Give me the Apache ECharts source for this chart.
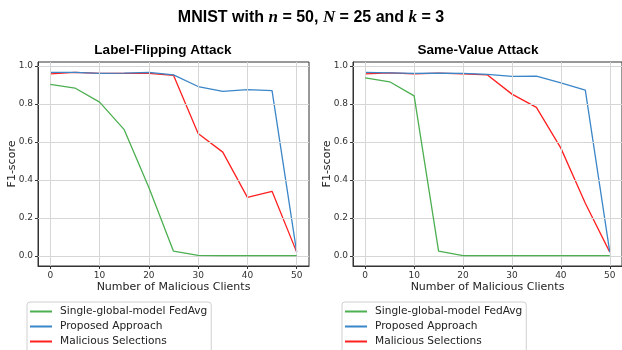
<!DOCTYPE html>
<html>
<head>
<meta charset="utf-8">
<script src="https://cdn.jsdelivr.net/npm/echarts@6/dist/echarts.min.js"></script>
<style>
  html, body { margin: 0; padding: 0; background: #fff; }
  #chart { width: 622px; height: 350px; }
</style>
</head>
<body>
<div id="chart"></div>
<script>
// number of malicious clients (x axis)
const clients = [0, 5, 10, 15, 20, 25, 30, 35, 40, 45, 50];
const xTicks = [0, 10, 20, 30, 40, 50];
const yTicks = [0, 0.2, 0.4, 0.6, 0.8, 1.0];

const seriesNames = ["Single-global-model FedAvg", "Proposed Approach", "Malicious Selections"];
const seriesColors = ["#4caf50", "#3a86c8", "#ff2020"];

// Label-Flipping Attack
const lfFedAvg = [0.902, 0.883, 0.809, 0.664, 0.36, 0.025, 0.003, 0.002, 0.002, 0.002, 0.002];
const lfProposed = [0.965, 0.965, 0.96, 0.962, 0.965, 0.952, 0.891, 0.866, 0.875, 0.869, 0.02];
const lfMalicious = [0.958, 0.965, 0.96, 0.96, 0.96, 0.95, 0.644, 0.546, 0.308, 0.34, 0.02];

// Same-Value Attack
const svFedAvg = [0.937, 0.916, 0.842, 0.025, 0.002, 0.002, 0.002, 0.002, 0.002, 0.002, 0.002];
const svProposed = [0.965, 0.963, 0.96, 0.962, 0.96, 0.955, 0.944, 0.946, 0.91, 0.872, 0.02];
const svMalicious = [0.958, 0.963, 0.958, 0.962, 0.958, 0.952, 0.851, 0.781, 0.567, 0.277, 0.02];

const panels = [
  { title: "Label-Flipping Attack", data: [lfFedAvg, lfProposed, lfMalicious], left: 38, width: 271, titleX: 158, legendLeft: 27 },
  { title: "Same-Value Attack", data: [svFedAvg, svProposed, svMalicious], left: 353, width: 269, titleX: 473, legendLeft: 342 },
];

const tickFont = { fontFamily: "DejaVu Sans", fontSize: 9, color: "#333" };
const nameFont = { fontFamily: "DejaVu Sans", fontSize: 11, color: "#222" };

const chart = echarts.init(document.getElementById("chart"), null, { renderer: "canvas" });

// grid lines at the tick values (splitLine ignores customValues)
const gridSeries = panels.map((p, i) => ({
  type: "line",
  xAxisIndex: i,
  yAxisIndex: i,
  data: [],
  silent: true,
  z: 1,
  markLine: {
    silent: true,
    symbol: "none",
    animation: false,
    label: { show: false },
    lineStyle: { color: "#d6d6d6", width: 1, type: "solid" },
    data: [...xTicks.map((v) => ({ xAxis: v })), ...yTicks.map((v) => ({ yAxis: v }))],
  },
}));

const option = {
  animation: false,
  backgroundColor: "#fff",
  title: [
    {
      text: "{b|MNIST with }{i|n}{b| = 50, }{i|N}{b| = 25 and }{i|k}{b| = 3}",
      left: "center",
      top: 4,
      textStyle: {
        rich: {
          b: { fontFamily: "Liberation Sans", fontWeight: "bold", fontSize: 16, color: "#000" },
          i: { fontFamily: "Liberation Serif", fontStyle: "italic", fontSize: 17, color: "#000" },
        },
      },
    },
    ...panels.map((p) => ({
      text: p.title,
      left: p.titleX,
      top: 38,
      textAlign: "center",
      textStyle: { fontFamily: "Liberation Sans", fontWeight: "bold", fontSize: 13.5, color: "#000" },
    })),
  ],
  legend: panels.map((p) => ({
    data: seriesNames,
    orient: "vertical",
    left: p.legendLeft,
    top: 302,
    height: 80,
    itemGap: 4,
    itemWidth: 22,
    itemHeight: 2,
    icon: "rect",
    padding: [4, 4, 20, 3],
    borderColor: "#d0d0d0",
    borderWidth: 1,
    borderRadius: 3,
    selectedMode: false,
    textStyle: { fontFamily: "DejaVu Sans", fontSize: 10.6, color: "#222", padding: [0, 0, 0, 3] },
  })),
  grid: panels.map((p) => ({
    left: p.left,
    top: 62,
    width: p.width,
    height: 204,
    show: true,
    borderColor: "#333",
    borderWidth: 1,
    containLabel: false,
  })),
  xAxis: panels.map((p, i) => ({
    type: "value",
    gridIndex: i,
    min: -2.5,
    max: 52.5,
    name: "Number of Malicious Clients",
    nameLocation: "middle",
    nameGap: 16,
    nameMoveOverlap: false,
    nameTextStyle: nameFont,
    axisLine: { show: true, onZero: false, lineStyle: { color: "#333" } },
    axisTick: { show: true, customValues: xTicks, length: 3, lineStyle: { color: "#333" } },
    axisLabel: { ...tickFont, customValues: xTicks, margin: 5 },
    splitLine: { show: false },
  })),
  yAxis: panels.map((p, i) => ({
    type: "value",
    gridIndex: i,
    min: -0.053,
    max: 1.02,
    name: "F1-score",
    nameLocation: "middle",
    nameGap: 20,
    nameMoveOverlap: false,
    nameTextStyle: nameFont,
    axisLine: { show: true, onZero: false, lineStyle: { color: "#333" } },
    axisTick: { show: true, customValues: yTicks, length: 3, lineStyle: { color: "#333" } },
    axisLabel: { ...tickFont, customValues: yTicks, margin: 5, formatter: (v) => v.toFixed(1) },
    splitLine: { show: false },
  })),
  series: [
    ...gridSeries,
    ...panels.flatMap((p, i) =>
      p.data.map((vals, j) => ({
        name: seriesNames[j],
        type: "line",
        xAxisIndex: i,
        yAxisIndex: i,
        data: clients.map((c, k) => [c, vals[k]]),
        symbol: "none",
        lineStyle: { color: seriesColors[j], width: 1.3 },
        itemStyle: { color: seriesColors[j] },
        z: 5 - j,
      }))
    ),
  ],
};

chart.setOption(option);
</script>
</body>
</html>
